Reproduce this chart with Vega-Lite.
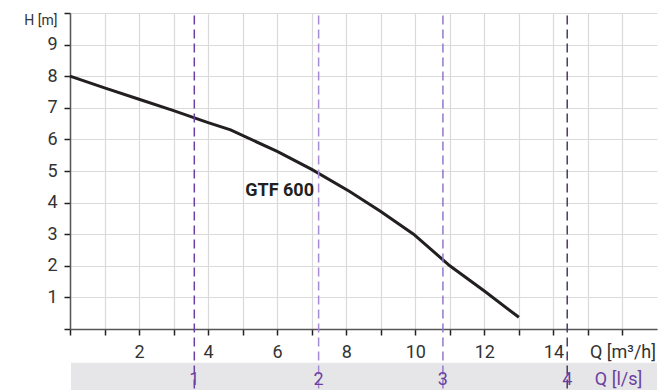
{
  "$schema": "https://vega.github.io/schema/vega-lite/v6.json",
  "width": 587,
  "height": 316,
  "autosize": {"type": "none"},
  "padding": {"left": 70, "top": 13, "right": 7, "bottom": 62},
  "background": "white",
  "config": {
    "view": {"stroke": null},
    "font": "Liberation Sans Narrow, Roboto, sans-serif",
    "axis": {
      "labelColor": "#333333",
      "labelFlush": false,
      "labelOverlap": false,
      "tickSize": 6,
      "tickColor": "#222222",
      "tickWidth": 1.5,
      "domainColor": "#555555",
      "domainWidth": 1.5,
      "grid": true,
      "gridColor": "#dadada",
      "gridWidth": 1.2,
      "title": null
    }
  },
  "data": {"values": [{}]},
  "datasets": {
    "curve": [
      {"q": 0, "h": 8.0},
      {"q": 1, "h": 7.63},
      {"q": 2, "h": 7.27},
      {"q": 3, "h": 6.91},
      {"q": 4, "h": 6.53},
      {"q": 4.65, "h": 6.3},
      {"q": 6, "h": 5.62},
      {"q": 7, "h": 5.05},
      {"q": 8.1, "h": 4.35},
      {"q": 9, "h": 3.72},
      {"q": 9.95, "h": 3.0},
      {"q": 11, "h": 2.0},
      {"q": 12, "h": 1.2},
      {"q": 13, "h": 0.37}
    ],
    "ls": [
      {"ls": 1, "q": 3.6},
      {"ls": 2, "q": 7.2},
      {"ls": 3, "q": 10.8},
      {"ls": 4, "q": 14.4}
    ]
  },
  "layer": [
    {
      "data": {"name": "curve"},
      "mark": {"type": "line", "color": "#231f20", "strokeWidth": 3},
      "encoding": {
        "x": {
          "field": "q", "type": "quantitative", "title": null,
          "scale": {"domain": [0, 17], "nice": false, "zero": false},
          "axis": {
            "values": [0,1,2,3,4,5,6,7,8,9,10,11,12,13,14,15,16],
            "labelExpr": "datum.value == 16 ? 'Q [m³/h]' : (datum.value > 0 && datum.value % 2 == 0 ? datum.label : '')",
            "labelFontSize": 18, "labelBaseline": "alphabetic", "labelPadding": 22, "labelOverlap": false
          }
        },
        "y": {
          "field": "h", "type": "quantitative", "title": null,
          "scale": {"domain": [0, 10], "nice": false, "zero": false},
          "axis": {
            "values": [0,1,2,3,4,5,6,7,8,9,10],
            "labelExpr": "datum.value == 10 ? 'H [m]' : (datum.value == 0 ? '' : datum.label)",
            "labelFontSize": {"condition": {"test": "datum.value == 10", "value": 14}, "value": 18},
            "labelBaseline": {"condition": {"test": "datum.value == 10", "value": "top"}, "value": "middle"},
            "labelPadding": 7, "labelOverlap": false
          }
        }
      }
    },
    {
      "mark": {"type": "rect", "color": "#e6e6e8"},
      "encoding": {
        "x": {"datum": 0.03, "type": "quantitative", "title": null,
          "axis": {
            "values": [0,1,2,3,4,5,6,7,8,9,10,11,12,13,14,15,16],
            "labelExpr": "datum.value == 16 ? 'Q [m³/h]' : (datum.value > 0 && datum.value % 2 == 0 ? datum.label : '')",
            "labelFontSize": 18, "labelBaseline": "alphabetic", "labelPadding": 22, "labelOverlap": false
          }},
        "x2": {"datum": 17},
        "y": {"datum": -1.07, "type": "quantitative", "title": null,
          "axis": {
            "values": [0,1,2,3,4,5,6,7,8,9,10],
            "labelExpr": "datum.value == 10 ? 'H [m]' : (datum.value == 0 ? '' : datum.label)",
            "labelFontSize": {"condition": {"test": "datum.value == 10", "value": 14}, "value": 18},
            "labelBaseline": {"condition": {"test": "datum.value == 10", "value": "top"}, "value": "middle"},
            "labelPadding": 7, "labelOverlap": false
          }},
        "y2": {"datum": -1.93}
      }
    },
    {
      "data": {"name": "ls"},
      "mark": {"type": "rule", "strokeDash": [9, 5], "strokeWidth": 1.5},
      "encoding": {
        "x": {"field": "q", "type": "quantitative", "title": null,
          "axis": {
            "values": [0,1,2,3,4,5,6,7,8,9,10,11,12,13,14,15,16],
            "labelExpr": "datum.value == 16 ? 'Q [m³/h]' : (datum.value > 0 && datum.value % 2 == 0 ? datum.label : '')",
            "labelFontSize": 18, "labelBaseline": "alphabetic", "labelPadding": 22, "labelOverlap": false
          }},
        "y": {"datum": 9.92, "type": "quantitative", "title": null,
          "axis": {
            "values": [0,1,2,3,4,5,6,7,8,9,10],
            "labelExpr": "datum.value == 10 ? 'H [m]' : (datum.value == 0 ? '' : datum.label)",
            "labelFontSize": {"condition": {"test": "datum.value == 10", "value": 14}, "value": 18},
            "labelBaseline": {"condition": {"test": "datum.value == 10", "value": "top"}, "value": "middle"},
            "labelPadding": 7, "labelOverlap": false
          }},
        "y2": {"datum": -1.93},
        "color": {"field": "ls", "type": "nominal", "legend": null,
          "scale": {"domain": [1, 2, 3, 4], "range": ["#6b3fa8", "#a58bd6", "#9478cc", "#4d3b66"]}}
      }
    },
    {
      "data": {"name": "ls"},
      "mark": {"type": "text", "color": "#6b3fa0", "fontSize": 18, "baseline": "alphabetic", "align": "center"},
      "encoding": {
        "x": {"field": "q", "type": "quantitative", "title": null,
          "axis": {
            "values": [0,1,2,3,4,5,6,7,8,9,10,11,12,13,14,15,16],
            "labelExpr": "datum.value == 16 ? 'Q [m³/h]' : (datum.value > 0 && datum.value % 2 == 0 ? datum.label : '')",
            "labelFontSize": 18, "labelBaseline": "alphabetic", "labelPadding": 22, "labelOverlap": false
          }},
        "y": {"datum": -1.78, "type": "quantitative", "title": null,
          "axis": {
            "values": [0,1,2,3,4,5,6,7,8,9,10],
            "labelExpr": "datum.value == 10 ? 'H [m]' : (datum.value == 0 ? '' : datum.label)",
            "labelFontSize": {"condition": {"test": "datum.value == 10", "value": 14}, "value": 18},
            "labelBaseline": {"condition": {"test": "datum.value == 10", "value": "top"}, "value": "middle"},
            "labelPadding": 7, "labelOverlap": false
          }},
        "text": {"field": "ls"}
      }
    },
    {
      "mark": {"type": "text", "color": "#6b3fa0", "fontSize": 18, "baseline": "alphabetic", "align": "left", "text": "Q [l/s]"},
      "encoding": {
        "x": {"datum": 15.2, "type": "quantitative", "title": null,
          "axis": {
            "values": [0,1,2,3,4,5,6,7,8,9,10,11,12,13,14,15,16],
            "labelExpr": "datum.value == 16 ? 'Q [m³/h]' : (datum.value > 0 && datum.value % 2 == 0 ? datum.label : '')",
            "labelFontSize": 18, "labelBaseline": "alphabetic", "labelPadding": 22, "labelOverlap": false
          }},
        "y": {"datum": -1.78, "type": "quantitative", "title": null,
          "axis": {
            "values": [0,1,2,3,4,5,6,7,8,9,10],
            "labelExpr": "datum.value == 10 ? 'H [m]' : (datum.value == 0 ? '' : datum.label)",
            "labelFontSize": {"condition": {"test": "datum.value == 10", "value": 14}, "value": 18},
            "labelBaseline": {"condition": {"test": "datum.value == 10", "value": "top"}, "value": "middle"},
            "labelPadding": 7, "labelOverlap": false
          }}
      }
    },
    {
      "mark": {"type": "text", "color": "#231f20", "fontSize": 18, "fontWeight": "bold", "baseline": "alphabetic", "align": "center", "text": "GTF 600"},
      "encoding": {
        "x": {"datum": 6.07, "type": "quantitative", "title": null,
          "axis": {
            "values": [0,1,2,3,4,5,6,7,8,9,10,11,12,13,14,15,16],
            "labelExpr": "datum.value == 16 ? 'Q [m³/h]' : (datum.value > 0 && datum.value % 2 == 0 ? datum.label : '')",
            "labelFontSize": 18, "labelBaseline": "alphabetic", "labelPadding": 22, "labelOverlap": false
          }},
        "y": {"datum": 4.21, "type": "quantitative", "title": null,
          "axis": {
            "values": [0,1,2,3,4,5,6,7,8,9,10],
            "labelExpr": "datum.value == 10 ? 'H [m]' : (datum.value == 0 ? '' : datum.label)",
            "labelFontSize": {"condition": {"test": "datum.value == 10", "value": 14}, "value": 18},
            "labelBaseline": {"condition": {"test": "datum.value == 10", "value": "top"}, "value": "middle"},
            "labelPadding": 7, "labelOverlap": false
          }}
      }
    }
  ]
}
